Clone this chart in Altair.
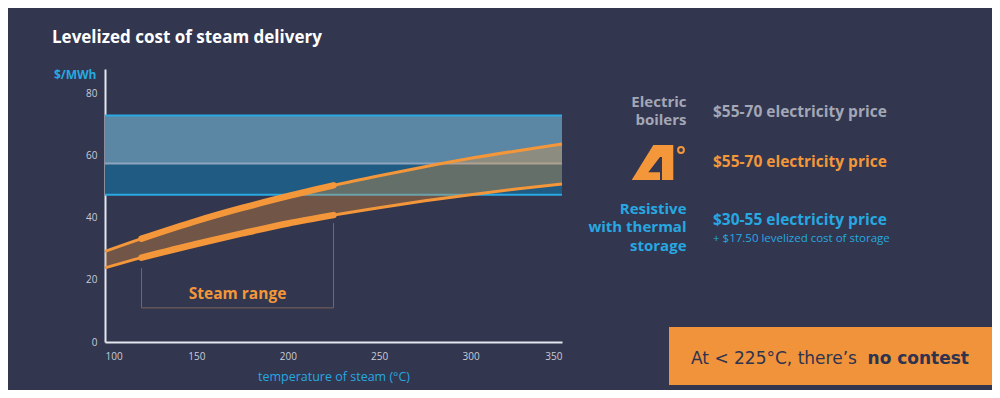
import altair as alt
import pandas as pd

# ---------------- data ----------------
temps = [100, 120, 150, 175, 200, 225, 250, 275, 300, 325, 350]
cost_high = [29.2, 33.3, 39.0, 43.2, 47.0, 50.5, 53.6, 56.5, 59.2, 61.6, 63.8]
cost_low = [23.9, 27.2, 31.6, 35.0, 38.2, 40.9, 43.3, 45.5, 47.5, 49.3, 50.9]
steam_range = [120, 225]

band_labels = ["Electric boilers", "Resistive with thermal storage"]
band_low = [57.5, 47.5]
band_high = [73.0, 57.5]
band_colors = ["#5b86a4", "#1f5b82"]

edge_values = [73.0, 57.5, 47.5]
edge_colors = ["#2aa9e2", "#8ea5bd", "#2aa9e2"]

bracket_x = [120, 120, 225]
bracket_x2 = [120, 225, 225]
bracket_y = [23.8, 11.0, 38.3]
bracket_y2 = [11.0, 11.0, 11.0]

x_ticks = [100, 150, 200, 250, 300, 350]
y_ticks = [0, 20, 40, 60, 80]

title_text = "Levelized cost of steam delivery"
x_title = "temperature of steam (°C)"
y_title = "$/MWh"
steam_label = "Steam range"
legend_gray = "Electric\nboilers"
legend_blue = "Resistive\nwith thermal\nstorage"
price_gray = "$55-70 electricity price"
price_orange = "$55-70 electricity price"
price_blue = "$30-55 electricity price"
storage_note = "+ $17.50 levelized cost of storage"
box_regular = "At < 225°C, there’s"
box_bold = "no contest"

# ---------------- styles ----------------
BG = "#32364f"
ORANGE = "#f3973a"
BLUE = "#27a8e0"
GRAY = "#a3a7b6"
FONT = "Open Sans"
W, H = 457, 273

xs = alt.Scale(domain=[100, 350], nice=False, zero=False)
ys = alt.Scale(domain=[0, 88], nice=False)

x_axis = alt.Axis(values=x_ticks, grid=False, ticks=False, domainColor="#e4e6ee", domainWidth=2,
                  labelColor="#c9ccd8", labelFont=FONT, labelFontSize=10, labelPadding=9,
                  titleColor=BLUE, titleFont=FONT, titleFontSize=12.5, titleFontWeight="normal",
                  titlePadding=9)
y_axis = alt.Axis(values=y_ticks, grid=False, ticks=False, domainColor="#e4e6ee", domainWidth=2,
                  labelColor="#c9ccd8", labelFont=FONT, labelFontSize=10, labelPadding=8,
                  titleColor=BLUE, titleFont=FONT, titleFontSize=12, titleFontWeight="bold",
                  titleAngle=0, titleAlign="right", titleBaseline="middle", titleX=-9, titleY=5)


def X(field):
    return alt.X(field, type="quantitative", scale=xs, axis=x_axis, title=x_title)


def Y(field):
    return alt.Y(field, type="quantitative", scale=ys, axis=y_axis, title=y_title)


curves = pd.DataFrame({"t": temps, "hi": cost_high, "lo": cost_low})
bands = pd.DataFrame({"name": band_labels, "lo": band_low, "hi": band_high, "color": band_colors,
                      "x0": [temps[0]] * 2, "x1": [temps[-1]] * 2})
edges = pd.DataFrame({"v": edge_values, "color": edge_colors,
                      "x0": [temps[0]] * 3, "x1": [temps[-1]] * 3})
bracket = pd.DataFrame({"x": bracket_x, "x2": bracket_x2, "y": bracket_y, "y2": bracket_y2})

band_layer = alt.Chart(bands).mark_rect().encode(
    x=X("x0"), x2="x1", y=Y("lo"), y2="hi", color=alt.Color("color:N", scale=None))
edge_layer = alt.Chart(edges).mark_rule(strokeWidth=2).encode(
    x=X("x0"), x2="x1", y=Y("v"), color=alt.Color("color:N", scale=None))
area_layer = alt.Chart(curves).mark_area(color=ORANGE, opacity=0.33, interpolate="monotone").encode(
    x=X("t"), y=Y("lo"), y2="hi")
bracket_layer = alt.Chart(bracket).mark_rule(color="#7d665c", strokeWidth=1).encode(
    x=X("x"), x2="x2", y=Y("y"), y2="y2")

thin_hi = alt.Chart(curves).mark_line(color=ORANGE, strokeWidth=3, interpolate="monotone").encode(
    x=X("t"), y=Y("hi"))
thin_lo = alt.Chart(curves).mark_line(color=ORANGE, strokeWidth=3, interpolate="monotone").encode(
    x=X("t"), y=Y("lo"))
rng = f"datum.t >= {steam_range[0]} && datum.t <= {steam_range[1]}"
thick_hi = alt.Chart(curves).transform_filter(rng).mark_line(
    color=ORANGE, strokeWidth=6.5, strokeCap="round", strokeJoin="round", interpolate="monotone"
).encode(x=X("t"), y=Y("hi"))
thick_lo = alt.Chart(curves).transform_filter(rng).mark_line(
    color=ORANGE, strokeWidth=6.5, strokeCap="round", strokeJoin="round", interpolate="monotone"
).encode(x=X("t"), y=Y("lo"))

steam_text = alt.Chart(pd.DataFrame({"label": [steam_label], "t": [172.5], "v": [15.5]})).mark_text(
    color=ORANGE, font=FONT, fontSize=15.5, fontWeight="bold", align="center", baseline="middle"
).encode(x=X("t"), y=Y("v"), text="label:N")


def txt(label, x, y, color, size, weight="bold", align="left", font=FONT, lh=None):
    kw = {}
    if lh is not None:
        kw = {"lineBreak": "\n", "lineHeight": lh}
    return alt.Chart(pd.DataFrame({"label": [label]})).mark_text(
        color=color, font=font, fontSize=size, fontWeight=weight, align=align, baseline="middle", **kw
    ).encode(x=alt.value(x), y=alt.value(y), text="label:N")


annots = [
    txt(title_text, -53, -31, "#ffffff", 17),
    txt(legend_gray, 581.5, 33.3, GRAY, 15, align="right", lh=18),
    txt(price_gray, 608, 42.7, GRAY, 15.5),
    txt(price_orange, 608, 92.7, ORANGE, 15.5),
    txt(legend_blue, 581.5, 140.3, BLUE, 15, align="right", lh=18.2),
    txt(price_blue, 608, 151, BLUE, 15.5),
    txt(storage_note, 608, 169.8, BLUE, 11.5, weight="normal"),
]

logo_path = ("M-0.99,0.833L0.04,-0.833L0.99,-0.833L0.99,0.833Z"
             "M-0.2,0.467L0.357,0.467L0.357,0.833L0.452,0.833L0.452,-0.262L0.357,-0.262Z")
one = pd.DataFrame({"k": [0]})
logo = alt.Chart(one).mark_point(shape=logo_path, filled=True, size=1764, color=ORANGE, opacity=1,
                                 strokeWidth=0).encode(x=alt.value(547.5), y=alt.value(93.5))
degree = alt.Chart(one).mark_point(shape="circle", filled=False, size=34, color=ORANGE, opacity=1,
                                   strokeWidth=2).encode(x=alt.value(576), y=alt.value(81))

box = alt.Chart(one).mark_rect(color="#f0933a").encode(
    x=alt.value(564), x2=alt.value(895), y=alt.value(258), y2=alt.value(316))
box_t1 = txt(box_regular, 586, 290, "#2e3350", 17, weight="normal", font="DejaVu Sans")
box_t2 = txt(box_bold, 864, 290, "#2e3350", 17, weight="bold", align="right", font="DejaVu Sans")

chart = alt.layer(
    band_layer, edge_layer, area_layer, bracket_layer, thin_hi, thin_lo, thick_hi, thick_lo,
    steam_text, *annots, logo, degree, box, box_t1, box_t2
).properties(
    width=W, height=H,
    autosize=alt.AutoSizeParams(type="none"),
    padding={"left": 97, "top": 61, "right": 430, "bottom": 48},
    background=BG,
).configure_view(strokeWidth=0)

chart.save("out.html", embed_options={"renderer": "svg", "actions": False})
